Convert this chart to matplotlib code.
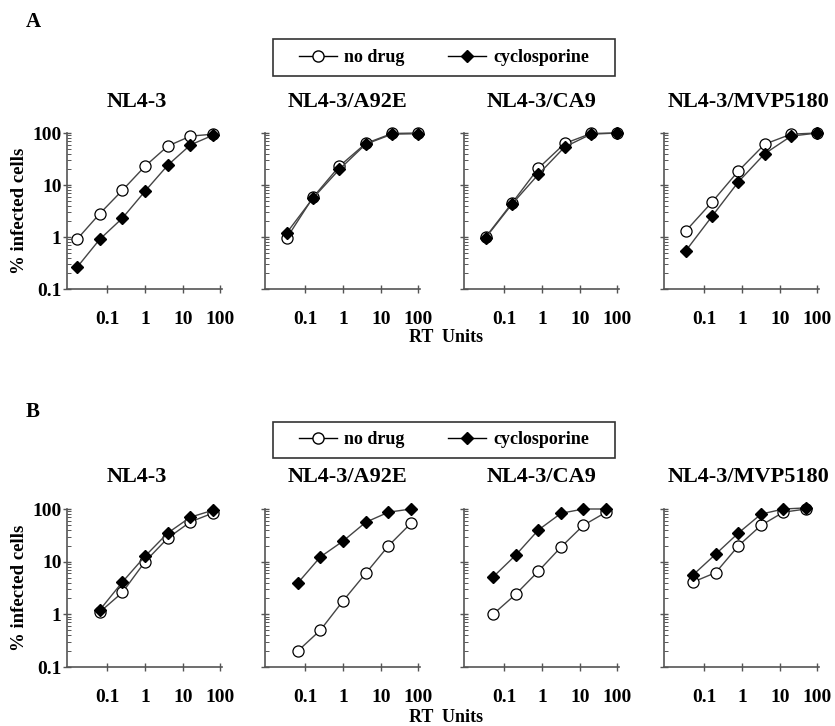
import numpy as np
import matplotlib
matplotlib.use("Agg")
import matplotlib.pyplot as plt
from matplotlib.lines import Line2D
from matplotlib.patches import Rectangle
from matplotlib.ticker import LogLocator, NullFormatter, FixedLocator, FixedFormatter

plt.rcParams["font.family"] = ["Liberation Serif", "DejaVu Serif"]
plt.rcParams["font.weight"] = "bold"

titles = ["NL4-3", "NL4-3/A92E", "NL4-3/CA9", "NL4-3/MVP5180"]

# --- panel A: % infected cells vs RT units ---
xA_4fold = [0.0156, 0.0625, 0.25, 1, 4, 16, 64]
xA_5fold = [0.032, 0.16, 0.8, 4, 20, 100]
A_x = [xA_4fold, xA_5fold, xA_5fold, xA_5fold]
A_nodrug = [
    [0.9, 2.8, 7.9, 23, 56, 87, 95],
    [0.95, 5.8, 23, 63, 98, 100],
    [1.0, 4.5, 21, 63, 98, 100],
    [1.3, 4.7, 18.6, 61, 95, 100],
]
A_cyclo = [
    [0.26, 0.9, 2.3, 7.6, 24, 59, 91],
    [1.2, 5.6, 20, 61, 95, 97],
    [0.97, 4.3, 16, 54, 95, 100],
    [0.54, 2.5, 11.5, 40, 87, 100],
]

# --- panel B ---
xB_1 = [0.0625, 0.25, 1, 4, 16, 64]
xB_2 = [0.05, 0.2, 0.8, 3.2, 12.5, 50]
B_x = [xB_1, xB_1, xB_2, xB_2]
B_nodrug = [
    [1.1, 2.6, 10, 28, 57, 84],
    [0.2, 0.5, 1.8, 6.0, 20, 54],
    [1.0, 2.4, 6.6, 19, 49, 87],
    [4.1, 6.2, 20, 49, 87, 100],
]
B_cyclo = [
    [1.2, 4.1, 12.7, 35, 70, 95],
    [3.9, 12.3, 24.6, 56, 87, 100],
    [5.1, 13.3, 40, 83, 100, 100],
    [5.6, 13.9, 35, 80, 100, 105],
]

fig = plt.figure(figsize=(8.35, 7.26), dpi=100)
W, H = 835.0, 726.0
lefts = [67, 265, 464, 664]
title_cx = [137, 347, 542, 748]
ax_w = 155
GREY = "#555555"


def draw_row(bottom_px, height_px, xs, nod, cyc, title_y, label_y):
    for i in range(4):
        ax = fig.add_axes([lefts[i] / W, bottom_px / H, ax_w / W, height_px / H])
        ax.plot(xs[i], nod[i], "-", color="#444444", lw=1.0, marker="o", ms=8,
                mfc="white", mec="black", mew=0.9, clip_on=False, zorder=3)
        ax.plot(xs[i], cyc[i], "-", color="#444444", lw=1.0, marker="D", ms=6.5,
                mfc="black", mec="black", clip_on=False, zorder=4)
        ax.set_xscale("log")
        ax.set_yscale("log")
        ax.set_xlim(0.0085, 110)
        ax.set_ylim(0.1, 100)
        for s in ("top", "right"):
            ax.spines[s].set_visible(False)
        for s in ("left", "bottom"):
            ax.spines[s].set_color(GREY)
            ax.spines[s].set_linewidth(1.2)
        ax.xaxis.set_major_locator(FixedLocator([0.1, 1, 10, 100]))
        ax.xaxis.set_major_formatter(FixedFormatter(["0.1", "1", "10", "100"]))
        ax.xaxis.set_minor_locator(LogLocator(base=10, subs=np.arange(2, 10)))
        ax.xaxis.set_minor_formatter(NullFormatter())
        ax.yaxis.set_major_locator(FixedLocator([0.1, 1, 10, 100]))
        ax.yaxis.set_minor_locator(LogLocator(base=10, subs=np.arange(2, 10)))
        ax.yaxis.set_minor_formatter(NullFormatter())
        if i == 0:
            ax.yaxis.set_major_formatter(FixedFormatter(["0.1", "1", "10", "100"]))
            ax.set_ylabel("% infected cells", fontsize=13.5, fontweight="bold", labelpad=3)
        else:
            ax.yaxis.set_major_formatter(NullFormatter())
        ax.tick_params(which="major", direction="inout", length=6, width=1.0,
                       color=GREY, labelsize=14, pad=13)
        ax.tick_params(which="minor", direction="in", length=3, width=0.7, color=GREY)
        ax.tick_params(axis="y", which="major", pad=1)
        fig.text(title_cx[i] / W, 1 - title_y / H, titles[i], ha="center", va="center",
                 fontsize=16, fontweight="bold")
    fig.text(446 / W, 1 - label_y / H, "RT  Units", ha="center", va="center",
             fontsize=13, fontweight="bold")


draw_row(H - 289, 156, A_x, A_nodrug, A_cyclo, 102, 337)
draw_row(H - 667, 158, B_x, B_nodrug, B_cyclo, 477, 718)

handles = [
    Line2D([], [], color="black", lw=1.0, marker="o", ms=8, mfc="white", mec="black"),
    Line2D([], [], color="black", lw=1.0, marker="D", ms=6.5, mfc="black", mec="black"),
]
for top, bot in ((39, 76), (422, 458)):
    fig.patches.append(Rectangle((273 / W, 1 - bot / H), (615 - 273) / W, (bot - top) / H,
                                 transform=fig.transFigure, fill=False,
                                 edgecolor="#333333", lw=1.2))
    fig.legend(handles, ["no drug", "cyclosporine"], loc="center",
               bbox_to_anchor=(444 / W, 1 - (top + bot) / 2 / H), ncol=2,
               frameon=False, handlelength=2.1, handletextpad=0.4,
               columnspacing=2.4, prop={"weight": "bold", "size": 13})

fig.text(33 / W, 1 - 22 / H, "A", fontsize=15, fontweight="bold", ha="center", va="center")
fig.text(33 / W, 1 - 412 / H, "B", fontsize=15, fontweight="bold", ha="center", va="center")

fig.savefig("out.png", dpi=100)
